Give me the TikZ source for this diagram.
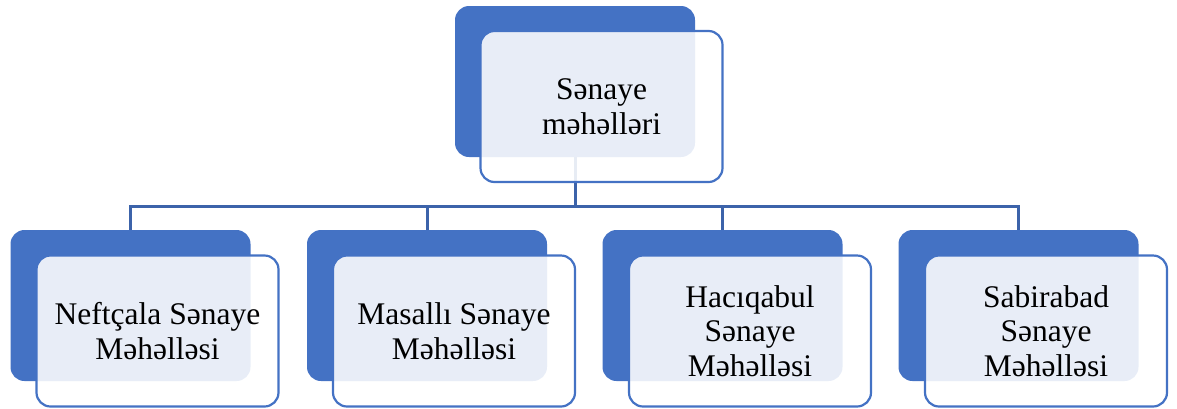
\documentclass[tikz,border=0pt]{standalone}
\usepackage{fontspec}
\setmainfont{Liberation Serif}
\definecolor{blockblue}{HTML}{4472C4}
\definecolor{linkblue}{HTML}{3C63AA}

\begin{document}
\begin{tikzpicture}[x=1pt, y=-1pt,
        back/.style={rectangle, rounded corners=14pt, fill=blockblue, minimum width=240pt, minimum height=151pt, inner sep=0pt},
        front/.style={rectangle, rounded corners=14pt, draw=blockblue, line width=2.2pt, fill=white, fill opacity=0.88, text opacity=1, minimum width=242pt, minimum height=151pt, inner sep=0pt, align=center, font=\fontsize{31.5}{34.5}\selectfont},
        link/.style={draw=linkblue, line width=3pt}]
        \useasboundingbox (0,0) rectangle (1177,408);

        % back blocks
        \node[back] (top) at (575, 81.5) {};
        \node[back] (b1) at (130.5, 305.5) {};
        \node[back] (b2) at (427, 305.5) {};
        \node[back] (b3) at (722.5, 305.5) {};
        \node[back] (b4) at (1018.5, 305.5) {};

        % connectors
        \coordinate (hub) at (575, 206);
        \draw[link] (top.south) -- (hub);
        \draw[link] (b1.north) |- (hub) -| (b4.north);
        \draw[link] (b2.north) |- (hub);
        \draw[link] (b3.north) |- (hub);

        % front blocks
        \node[front] (ftop) at (601.5, 106.5) {Sənaye\\məhəlləri};
        \node[front] (f1) at (157.5, 331) {Neftçala Sənaye\\Məhəlləsi};
        \node[front] (f2) at (454, 331) {Masallı Sənaye\\Məhəlləsi};
        \node[front] (f3) at (750, 331) {Hacıqabul\\Sənaye\\Məhəlləsi};
        \node[front] (f4) at (1046, 331) {Sabirabad\\Sənaye\\Məhəlləsi};

\end{tikzpicture}
\end{document}
